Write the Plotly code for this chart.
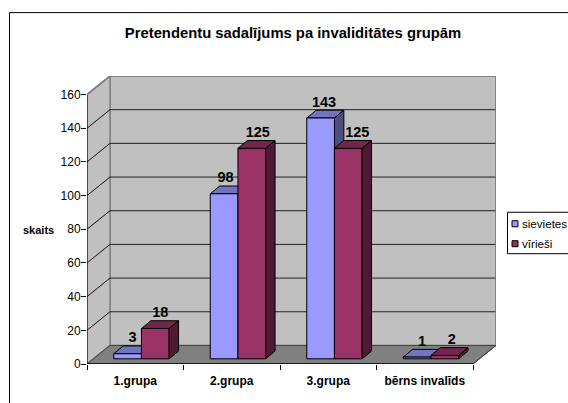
import plotly.graph_objects as go

# --- data ---
categories = ["1.grupa", "2.grupa", "3.grupa", "bērns invalīds"]
sievietes = [3, 98, 143, 1]
virieši = [18, 125, 125, 2]
y_ticks = [0, 20, 40, 60, 80, 100, 120, 140, 160]
title_text = "Pretendentu sadalījums pa invaliditātes grupām"

# --- pixel layout of the chart ---
W, H = 568, 403
PX_L, PX_R, PX_T, PX_B = 87, 496, 76, 364.5
PX_PER_CAT = 96.5
PX_PER_UNIT = 1.6875
to_x = lambda px: px / PX_PER_CAT
to_y = lambda px: px / PX_PER_UNIT

WALL_DX, WALL_DY = to_x(23), to_y(18.6)    # depth of the whole box
BAR_SHIFT_X, BAR_SHIFT_Y = to_x(6.2), to_y(5.2)  # bars stand inside the floor
BAR_W = to_x(27.7)
BAR_DX, BAR_DY = to_x(9.4), to_y(7.8)      # depth of one bar
N = len(categories)

BLUE, BLUE_TOP, BLUE_SIDE = "#9999FF", "#7373BF", "#4D4D80"
RED, RED_TOP, RED_SIDE = "#993366", "#73264D", "#4D1933"
WALL, FLOOR, EDGE = "#C0C0C0", "#808080", "#808080"
FONT = "Liberation Sans"

x_range = [0, N + WALL_DX]
y_range = [0, y_ticks[-1] + WALL_DY]


def poly(pts, fill, layer="below", line="black", lw=1):
    path = "M " + " L ".join(f"{x} {y}" for x, y in pts) + " Z"
    return dict(type="path", path=path, xref="x", yref="y", fillcolor=fill,
                line=dict(color=line, width=lw), layer=layer)


def seg(x0, y0, x1, y1, color="black", lw=1):
    return dict(type="line", x0=x0, y0=y0, x1=x1, y1=y1, xref="x", yref="y",
                line=dict(color=color, width=lw), layer="below")


shapes = []
# walls and floor
top = y_ticks[-1]
shapes.append(poly([(WALL_DX, WALL_DY), (N + WALL_DX, WALL_DY), (N + WALL_DX, top + WALL_DY), (WALL_DX, top + WALL_DY)],
                   WALL, line=EDGE, lw=1.5))
shapes.append(poly([(0, 0), (WALL_DX, WALL_DY), (WALL_DX, top + WALL_DY), (0, top)], WALL, line=EDGE, lw=1.5))
shapes.append(poly([(0, 0), (N, 0), (N + WALL_DX, WALL_DY), (WALL_DX, WALL_DY)], FLOOR, line="#404040", lw=1))
# grid lines on both walls
for t in y_ticks[1:-1]:
    shapes.append(seg(WALL_DX, t + WALL_DY, N + WALL_DX, t + WALL_DY, "#222222"))
    shapes.append(seg(0, t, WALL_DX, t + WALL_DY, "#111111"))


def depth_faces(left, value, top_c, side_c, layer):
    b = BAR_SHIFT_Y
    t = value + b
    r = left + BAR_W
    return [
        poly([(left, t), (r, t), (r + BAR_DX, t + BAR_DY), (left + BAR_DX, t + BAR_DY)], top_c, layer),
        poly([(r, b), (r + BAR_DX, b + BAR_DY), (r + BAR_DX, t + BAR_DY), (r, t)], side_c, layer),
    ]


centers = [i + 0.5 + BAR_SHIFT_X for i in range(N)]
blue_x = [c - BAR_W / 2 for c in centers]
red_x = [c + BAR_W / 2 for c in centers]

for i in range(N):
    shapes += depth_faces(blue_x[i] - BAR_W / 2, sievietes[i], BLUE_TOP, BLUE_SIDE, "below")
    shapes += depth_faces(red_x[i] - BAR_W / 2, virieši[i], RED_TOP, RED_SIDE, "above")

# helpers for paper-space furniture
def pxx(p):
    return (p - PX_L) / (PX_R - PX_L)


def pxy(p):
    return (PX_B - p) / (PX_B - PX_T)


# chart frame (runs off the page on the right and bottom)
shapes.append(dict(type="rect", xref="paper", yref="paper", x0=pxx(9.5), x1=pxx(590), y0=pxy(12.5), y1=pxy(420),
                   line=dict(color="black", width=1), fillcolor="rgba(0,0,0,0)", layer="below"))
# legend box and swatches
shapes.append(dict(type="rect", xref="paper", yref="paper", x0=pxx(507.5), x1=pxx(590), y0=pxy(212.5), y1=pxy(254),
                   line=dict(color="black", width=1), fillcolor="white", layer="below"))
for cy, col in ((224, BLUE), (244, RED)):
    shapes.append(dict(type="rect", xref="paper", yref="paper", x0=pxx(512), x1=pxx(518), y0=pxy(cy - 3), y1=pxy(cy + 3),
                       line=dict(color="black", width=1), fillcolor=col, layer="above"))

annotations = [
    dict(text="<b>skaits</b>", xref="paper", yref="paper", x=pxx(38), y=pxy(230), xanchor="center", showarrow=False,
         font=dict(family=FONT, size=11, color="black")),
    dict(text="sievietes", xref="paper", yref="paper", x=pxx(520), y=pxy(224), xanchor="left", showarrow=False,
         font=dict(family=FONT, size=11.6, color="black")),
    dict(text="vīrieši", xref="paper", yref="paper", x=pxx(520), y=pxy(244), xanchor="left", showarrow=False,
         font=dict(family=FONT, size=11.6, color="black")),
]

fig = go.Figure()
for name, xs, vals, col in (("sievietes", blue_x, sievietes, BLUE), ("vīrieši", red_x, virieši, RED)):
    fig.add_trace(go.Bar(name=name, x=xs, y=vals, base=[BAR_SHIFT_Y] * N, width=BAR_W,
                         marker=dict(color=col, line=dict(color="black", width=1)), showlegend=False))

# outer edges, not clipped by the plotting area
edge = dict(mode="lines", cliponaxis=False, showlegend=False, hoverinfo="skip")
fig.add_trace(go.Scatter(x=[0, 0], y=[0, top], line=dict(color="black", width=1), **edge))
fig.add_trace(go.Scatter(x=[0, N], y=[0, 0], line=dict(color="black", width=1.5), **edge))
fig.add_trace(go.Scatter(x=[0, WALL_DX, N + WALL_DX, N + WALL_DX], y=[top, top + WALL_DY, top + WALL_DY, WALL_DY],
                         line=dict(color=EDGE, width=1.5), **edge))
fig.add_trace(go.Scatter(x=[N, N + WALL_DX], y=[0, WALL_DY], line=dict(color="#404040", width=1), **edge))

# value labels
nudge_blue = [5, 1.5, 3.5, 5]
nudge_red = [5, 6, 9, 7]
for xs, vals, nudge in ((blue_x, sievietes, nudge_blue), (red_x, virieši, nudge_red)):
    fig.add_trace(go.Scatter(
        x=[x + to_x(n) for x, n in zip(xs, nudge)],
        y=[v + BAR_SHIFT_Y + BAR_DY for v in vals],
        mode="text", text=[str(v) for v in vals], textposition="top center",
        textfont=dict(family=FONT, size=14.5, color="black", weight="bold"),
        cliponaxis=False, showlegend=False, hoverinfo="skip"))

fig.update_layout(
    width=W, height=H, paper_bgcolor="white", plot_bgcolor="white",
    margin=dict(l=PX_L, r=W - PX_R, t=PX_T, b=H - PX_B, pad=0, autoexpand=False),
    barmode="overlay", showlegend=False,
    title=dict(text=f"<b>{title_text}</b>", x=293 / W, xref="container", xanchor="center",
               y=1 - 33 / H, yref="container", yanchor="middle",
               font=dict(family=FONT, size=14.8, color="black")),
    shapes=shapes, annotations=annotations,
    xaxis=dict(range=x_range, tickmode="array", tickvals=[i + 0.5 for i in range(N)], ticktext=[f"<b>{c}</b>" for c in categories],
               ticks="", showgrid=False, zeroline=False, showline=False, layer="below traces",
               tickfont=dict(family=FONT, size=12, color="black"), ticklabelstandoff=8,
               minor=dict(tickmode="array", tickvals=list(range(N + 1)), ticks="outside", ticklen=5, tickcolor="black", tickwidth=1, showgrid=False)),
    yaxis=dict(range=y_range, tickmode="array", tickvals=y_ticks, ticks="outside", ticklen=5, tickcolor="black", tickwidth=1,
               showgrid=False, zeroline=False, showline=False, ticklabelstandoff=-2,
               tickfont=dict(family=FONT, size=12, color="black")),
)
fig.write_html("out.html", config=dict(displayModeBar=False),
               post_script="document.body.style.margin=0;document.body.style.overflow='hidden';")
